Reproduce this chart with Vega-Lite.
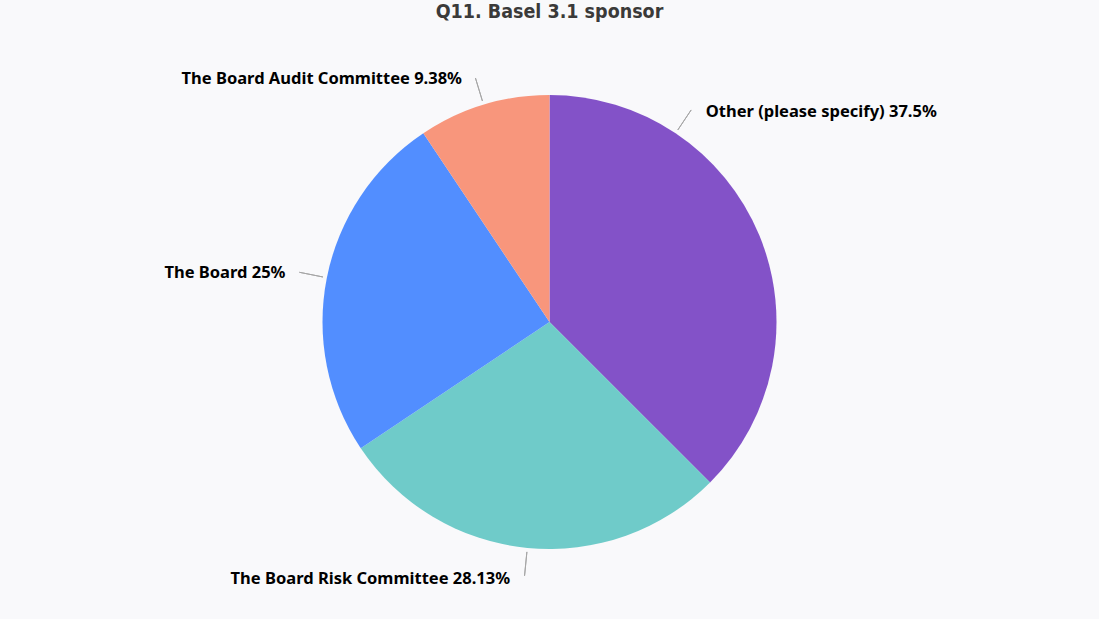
{
  "$schema": "https://vega.github.io/schema/vega-lite/v6.json",
  "width": 1099,
  "height": 594,
  "autosize": "none",
  "padding": {"top": 25, "left": 0, "right": 0, "bottom": 0},
  "background": "#F9F9FB",
  "title": {
    "text": "Q11. Basel 3.1 sponsor",
    "anchor": "middle",
    "frame": "group",
    "font": "DejaVu Sans Condensed",
    "fontSize": 19.5,
    "fontWeight": "bold",
    "color": "#3B3A39",
    "offset": 3
  },
  "config": {"view": {"stroke": null}},
  "data": {
    "values": [
      {"k": 1, "category": "Other (please specify)", "pct": 37.5, "label": "Other (please specify) 37.5%"},
      {"k": 2, "category": "The Board Risk Committee", "pct": 28.13, "label": "The Board Risk Committee 28.13%"},
      {"k": 3, "category": "The Board", "pct": 25, "label": "The Board 25%"},
      {"k": 4, "category": "The Board Audit Committee", "pct": 9.38, "label": "The Board Audit Committee 9.38%"}
    ]
  },
  "transform": [
    {"window": [{"op": "sum", "field": "pct", "as": "cum"}], "sort": [{"field": "k"}], "frame": [null, 0]},
    {"calculate": "datum.cum - datum.pct / 2", "as": "mid"},
    {"calculate": "datum.k == 1 ? datum.cum - datum.pct * 0.75 : datum.mid", "as": "lead"}
  ],
  "layer": [
    {
      "mark": {"type": "arc", "outerRadius": 227},
      "encoding": {
        "theta": {"field": "pct", "type": "quantitative", "stack": true},
        "order": {"field": "k", "type": "quantitative"},
        "color": {
          "field": "category",
          "type": "nominal",
          "legend": null,
          "scale": {
            "domain": ["Other (please specify)", "The Board Risk Committee", "The Board", "The Board Audit Committee"],
            "range": ["#8352C8", "#6FCBC9", "#528EFF", "#F8967C"]
          }
        }
      }
    },
    {
      "mark": {"type": "arc", "outerRadius": 255, "innerRadius": 231, "fill": null, "stroke": "#A6A6A6", "strokeWidth": 1},
      "encoding": {
        "theta": {"field": "lead", "type": "quantitative", "stack": null},
        "theta2": {"field": "lead"}
      }
    },
    {
      "transform": [{"filter": "datum.k == 1"}],
      "mark": {"type": "text", "radius": 260, "align": "left", "baseline": "middle", "dx": -84, "dy": -110, "font": "Noto Sans", "fontSize": 16.5, "fontWeight": "bold", "color": "#000000"},
      "encoding": {"theta": {"field": "mid", "type": "quantitative", "stack": null}, "text": {"field": "label"}}
    },
    {
      "transform": [{"filter": "datum.k == 2"}],
      "mark": {"type": "text", "radius": 260, "align": "right", "baseline": "middle", "dx": -14, "dy": -2, "font": "Noto Sans", "fontSize": 16.5, "fontWeight": "bold", "color": "#000000"},
      "encoding": {"theta": {"field": "mid", "type": "quantitative", "stack": null}, "text": {"field": "label"}}
    },
    {
      "transform": [{"filter": "datum.k == 3"}],
      "mark": {"type": "text", "radius": 260, "align": "right", "baseline": "middle", "dx": -9, "dy": 2, "font": "Noto Sans", "fontSize": 16.5, "fontWeight": "bold", "color": "#000000"},
      "encoding": {"theta": {"field": "mid", "type": "quantitative", "stack": null}, "text": {"field": "label"}}
    },
    {
      "transform": [{"filter": "datum.k == 4"}],
      "mark": {"type": "text", "radius": 260, "align": "right", "baseline": "middle", "dx": -12, "dy": 6, "font": "Noto Sans", "fontSize": 16.5, "fontWeight": "bold", "color": "#000000"},
      "encoding": {"theta": {"field": "mid", "type": "quantitative", "stack": null}, "text": {"field": "label"}}
    }
  ]
}
